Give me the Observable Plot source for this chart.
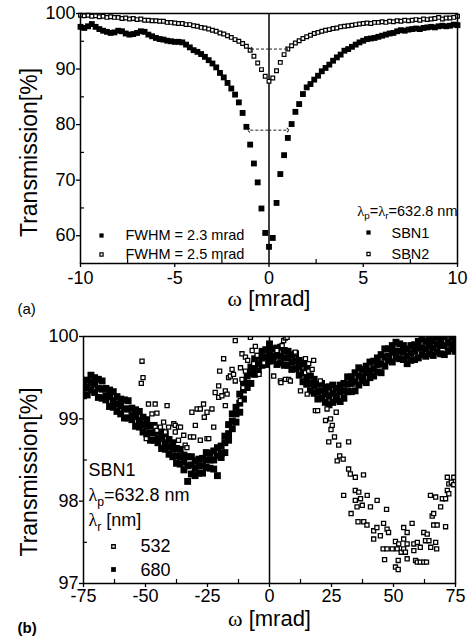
<!DOCTYPE html>
<html><head><meta charset="utf-8">
<script src="https://cdn.jsdelivr.net/npm/d3@7"></script>
<script src="https://cdn.jsdelivr.net/npm/@observablehq/plot@0.6"></script>
<style>
body{margin:0;background:#fff;}
#chart svg{display:block;}
#chart g[aria-label="x-axis tick"], #chart g[aria-label="y-axis tick"]{stroke-width:1.3px;}
</style></head><body><div id="chart"></div>
<script>
// ---------- panel (a) ----------
const omegaA = [-10,-9.8,-9.6,-9.4,-9.2,-9,-8.8,-8.6,-8.4,-8.2,
  -8,-7.8,-7.6,-7.4,-7.2,-7,-6.8,-6.6,-6.4,-6.2,
  -6,-5.8,-5.6,-5.4,-5.2,-5,-4.8,-4.6,-4.4,-4.2,
  -4,-3.8,-3.6,-3.4,-3.2,-3,-2.8,-2.6,-2.4,-2.2,
  -2,-1.8,-1.6,-1.4,-1.2,-1,-0.8,-0.6,-0.4,-0.2,
  0,0.2,0.4,0.6,0.8,1,1.2,1.4,1.6,1.8,
  2,2.2,2.4,2.6,2.8,3,3.2,3.4,3.6,3.8,
  4,4.2,4.4,4.6,4.8,5,5.2,5.4,5.6,5.8,
  6,6.2,6.4,6.6,6.8,7,7.2,7.4,7.6,7.8,
  8,8.2,8.4,8.6,8.8,9,9.2,9.4,9.6,9.8,
  10];
const sbn1T = [97.6,97.4,97.7,98.1,97.6,97.2,96.9,96.7,96.5,96.6,
  96.9,96.8,96.4,96.2,96.3,96.5,96.8,96.7,96.2,95.9,
  95.6,95.4,95.3,95.1,95.0,94.9,94.9,94.8,94.4,93.9,
  93.4,93.1,92.7,92.2,91.6,91.0,90.3,89.3,88.5,87.5,
  86.5,85.4,84.0,82.1,79.6,76.4,73.0,69.6,64.9,60.5,
  58.0,59.6,65.9,71.1,74.5,77.6,80.1,82.3,83.7,85.5,
  86.7,87.3,88.1,88.8,89.6,90.2,90.8,91.5,92.1,92.6,
  93.3,93.6,94.0,94.4,94.8,95.1,95.4,95.5,95.6,95.8,
  96.0,96.2,96.4,96.5,96.8,97.0,96.9,97.1,97.2,97.3,
  97.2,97.4,97.5,97.6,97.5,97.7,97.8,97.7,97.8,98.0,
  97.9];
const sbn2T = [99.7,99.6,99.7,99.5,99.6,99.4,99.5,99.3,99.4,99.3,
  99.3,99.1,99.2,99.0,99.1,98.9,99.0,98.8,98.8,98.7,
  98.7,98.6,98.6,98.4,98.4,98.3,98.2,98.2,98.0,98.0,
  97.8,97.7,97.5,97.4,97.2,97.0,96.8,96.5,96.3,96.0,
  95.7,95.3,95.0,94.6,94.1,93.4,92.3,91.1,89.9,88.7,
  87.8,88.4,89.7,91.2,92.6,93.6,94.2,94.7,95.1,95.5,
  95.8,96.1,96.4,96.6,96.8,97.0,97.1,97.3,97.4,97.6,
  97.7,97.8,97.9,98.0,98.1,98.2,98.3,98.2,98.4,98.4,
  98.5,98.4,98.6,98.5,98.7,98.6,98.8,98.7,98.8,98.9,
  98.8,99.0,98.9,99.0,99.1,99.3,99.0,99.2,99.2,99.3,
  99.5];
// FWHM arrows (dashed, double headed)
const fwhmLeft  = [-0.95, -1.08];
const fwhmRight = [0.95, 1.01];
const fwhmLevel = [93.6, 79.0];

const aXTicks = [-10,-5,0,5,10];
const aXMinor = [-7.5,-2.5,2.5,7.5];
const aYTicks = [60,70,80,90,100];
const aYMinor = [65,75,85,95];

// ---------- panel (b) ----------
const omegaB680 = [-75,-73.5,-72,-70.5,-69,-67.5,-66,-64.5,-63,-61.5,
  -60,-58.5,-57,-55.5,-54,-52.5,-51,-49.5,-48,-46.5,
  -45,-43.5,-42,-40.5,-39,-37.5,-36,-34.5,-33,-31.5,
  -30,-28.5,-27,-25.5,-24,-22.5,-21,-19.5,-18,-16.5,
  -15,-13.5,-12,-10.5,-9,-7.5,-6,-4.5,-3,-1.5,
  0,1.5,3,4.5,6,7.5,9,10.5,12,13.5,
  15,16.5,18,19.5,21,22.5,24,25.5,27,28.5,
  30,31.5,33,34.5,36,37.5,39,40.5,42,43.5,
  45,46.5,48,49.5,51,52.5,54,55.5,57,58.5,
  60,61.5,63,64.5,66,67.5,69,70.5,72,73.5,
  75];
const t680a = [99.45,99.47,99.53,99.50,99.48,99.46,99.37,99.35,99.33,99.27,
  99.24,99.23,99.22,99.13,99.11,99.09,99.02,98.99,98.92,98.92,
  98.85,98.84,98.82,98.75,98.71,98.64,98.63,98.56,98.54,98.54,
  98.49,98.51,98.52,98.59,98.58,98.61,98.65,98.67,98.79,98.93,
  99.06,99.14,99.30,99.45,99.52,99.63,99.73,99.76,99.82,99.84,
  99.91,99.85,99.86,99.87,99.83,99.82,99.78,99.79,99.71,99.67,
  99.61,99.52,99.48,99.42,99.43,99.38,99.39,99.41,99.37,99.41,
  99.43,99.51,99.51,99.56,99.62,99.60,99.64,99.69,99.70,99.74,
  99.78,99.85,99.85,99.89,99.93,99.91,99.89,99.85,99.89,99.90,
  99.94,99.97,99.94,99.96,99.95,99.99,99.97,100.00,100.03,99.99,
  100.01];
const t680b = [99.37,99.38,99.44,99.42,99.37,99.36,99.28,99.27,99.22,99.18,
  99.16,99.12,99.12,99.04,99.03,98.98,98.93,98.91,98.83,98.83,
  98.76,98.76,98.71,98.66,98.63,98.55,98.54,98.48,98.43,98.44,
  98.40,98.43,98.43,98.50,98.50,98.50,98.55,98.58,98.71,98.82,
  98.97,99.06,99.19,99.35,99.43,99.55,99.62,99.67,99.74,99.75,
  99.81,99.76,99.78,99.76,99.74,99.74,99.69,99.70,99.63,99.56,
  99.50,99.43,99.40,99.33,99.34,99.30,99.28,99.31,99.28,99.33,
  99.34,99.42,99.43,99.45,99.52,99.51,99.56,99.58,99.61,99.66,
  99.67,99.75,99.76,99.81,99.82,99.82,99.81,99.76,99.80,99.82,
  99.86,99.86,99.85,99.88,99.86,99.90,99.89,99.89,99.93,99.90,
  99.92];
const t680c = [99.28,99.29,99.35,99.32,99.26,99.25,99.23,99.15,99.14,99.09,
  99.06,99.01,99.01,98.99,98.91,98.90,98.84,98.82,98.74,98.74,
  98.71,98.64,98.63,98.57,98.54,98.46,98.45,98.38,98.24,98.33,
  98.31,98.34,98.34,98.41,98.40,98.39,98.31,98.53,98.59,98.74,
  98.88,98.96,99.08,99.24,99.38,99.43,99.54,99.58,99.65,99.66,
  99.70,99.71,99.66,99.68,99.65,99.65,99.60,99.61,99.53,99.45,
  99.42,99.34,99.31,99.24,99.25,99.20,99.17,99.20,99.23,99.21,
  99.25,99.33,99.33,99.34,99.41,99.46,99.44,99.50,99.52,99.57,
  99.56,99.64,99.71,99.69,99.74,99.73,99.72,99.67,99.71,99.72,
  99.74,99.78,99.76,99.79,99.77,99.81,99.79,99.78,99.82,99.85,
  99.82];
const omegaB532 = [-51.7,-51.4,-51.0,-49.7,-48.8,-47.4,-46.1,-46.1,-45.4,-45.4,
  -44.0,-42.7,-42.0,-41.3,-40.7,-38.6,-38.0,-38.0,-36.7,-36.7,
  -35.9,-34.6,-34.0,-33.3,-31.9,-31.3,-30.6,-29.9,-29.2,-27.9,
  -27.9,-26.6,-26.3,-25.2,-25.2,-24.5,-23.2,-22.5,-21.9,-20.5,
  -20.5,-20.1,-19.2,-18.5,-17.8,-17.8,-17.1,-16.5,-15.8,-15.1,
  -14.5,-13.8,-13.8,-11.8,-11.7,-11.1,-11.1,-10.7,-9.7,-9.7,
  -8.8,-7.7,-7.0,-6.4,-5.7,-5.0,-4.2,-2.3,1.7,3.0,
  4.4,4.6,5.1,5.7,6.4,6.4,7.1,7.7,8.4,10.4,
  12.5,14.5,14.5,15.2,15.8,15.8,17.2,17.8,18.5,19.4,
  20.5,22.6,23.2,23.9,24.6,24.8,25.3,26.2,26.9,27.3,
  27.9,28.3,29.7,29.9,31.9,31.9,32.6,32.9,34.6,34.6,
  34.6,35.3,35.7,36.0,36.7,37.4,37.9,38.0,39.3,39.4,
  40.7,42.0,42.0,43.3,43.4,44.7,45.8,46.0,46.4,47.2,
  47.4,47.4,48.0,49.5,50.8,50.8,51.5,51.9,51.9,52.1,
  53.1,54.1,54.1,54.1,54.8,55.5,55.5,55.5,57.5,58.2,
  58.2,58.9,59.6,59.6,60.8,60.8,62.2,62.2,62.9,63.3,
  63.6,64.3,64.9,65.0,65.6,66.2,66.2,67.0,67.0,67.4,
  67.6,69.0,69.7,71.0,71.0,71.7,71.7,72.3,72.3,73.3,
  74.3,74.3];
const t532 = [99.43,99.70,99.50,98.76,99.18,99.06,99.18,98.90,99.07,98.86,
  98.90,98.96,98.84,99.16,98.90,98.94,98.92,98.84,98.90,98.74,
  98.90,98.80,98.68,98.65,98.78,99.08,98.78,98.92,99.12,98.74,
  99.12,99.18,99.02,99.08,98.76,98.76,99.12,98.90,99.32,99.40,
  99.26,99.58,99.28,99.73,99.34,99.16,99.30,99.50,99.52,99.60,
  99.54,99.95,99.46,99.22,99.62,99.48,99.79,99.38,99.58,99.75,
  99.71,99.99,99.83,99.67,99.88,99.77,99.54,99.68,99.52,99.83,
  99.46,99.44,99.89,99.95,99.98,99.48,99.99,99.48,99.46,99.81,
  99.34,99.56,99.73,99.30,99.67,99.58,99.60,99.71,99.10,99.10,
  99.46,98.98,99.12,98.72,99.00,98.87,98.92,98.78,99.08,98.49,
  98.68,98.55,98.51,98.07,98.72,98.39,98.33,97.85,98.29,98.13,
  98.01,97.93,97.75,98.11,98.03,97.95,98.32,97.75,97.71,98.07,
  97.93,97.64,97.54,97.68,98.01,97.58,97.42,97.73,97.29,97.90,
  97.66,97.42,97.62,97.42,97.51,97.20,97.42,97.17,97.28,97.48,
  97.38,97.54,97.42,97.68,97.38,97.48,97.30,97.62,97.73,97.48,
  97.40,97.28,97.26,97.50,97.26,97.44,97.26,97.62,97.52,97.26,
  97.60,97.52,98.07,97.44,97.82,97.71,97.85,97.50,98.05,97.42,
  97.71,97.93,98.03,97.69,98.03,98.13,98.29,98.09,98.21,98.23,
  98.29,98.20];

const bXTicks = [-75,-50,-25,0,25,50,75];
const bXMinor = [-62.5,-37.5,-12.5,12.5,37.5,62.5];
const bYTicks = [97,98,99,100];
const bYMinor = [97.5,98.5,99.5];

// ---------- texts ----------
const yTitle = ["Transmission[%]"];
const xTitle = ["ω [mrad]"];
const aLegendLeft = ["FWHM = 2.3 mrad", "FWHM = 2.5 mrad"];
const aLegendRight = ["λ_p=λ_r=632.8 nm", "SBN1", "SBN2"];
const bLegend = ["SBN1", "λ_p=632.8 nm", "λ_r [nm]", "532", "680"];

const FONT = '"Liberation Sans", Arial, Helvetica, sans-serif';
const fmt = d => String(d);

const sbn1 = omegaA.map((x, i) => ({x, y: sbn1T[i]}));
const sbn2 = omegaA.map((x, i) => ({x, y: sbn2T[i]}));
const arrowsA = fwhmLevel.flatMap((y, i) => {
  const mid = (fwhmLeft[i] + fwhmRight[i]) / 2;
  return [{x1: mid, x2: fwhmLeft[i], y}, {x1: mid, x2: fwhmRight[i], y}];
});
const d680 = [t680a, t680b, t680c].flatMap(arr => omegaB680.map((x, i) => ({x, y: arr[i]})));
const d532 = omegaB532.map((x, i) => ({x, y: t532[i]}));

const sq = (extra) => Object.assign({symbol: "square"}, extra);
const lbl = (extra) => Object.assign({lineAnchor: "middle"}, extra);

const plotA = Plot.plot({
  width: 471, height: 320,
  marginLeft: 80, marginRight: 14, marginTop: 13, marginBottom: 57,
  style: {fontFamily: FONT, fontSize: "18px", color: "black", background: "white", overflow: "visible"},
  x: {domain: [-10, 10], ticks: aXTicks, tickSize: 4, tickPadding: 4, tickFormat: fmt, label: null},
  y: {domain: [55, 100], ticks: aYTicks, tickSize: 4, tickPadding: 1, tickFormat: fmt, label: null},
  marks: [
    Plot.ruleX([0], {strokeWidth: 1.5}),
    Plot.tickX(aXMinor, {insetTop: 246, strokeWidth: 1.2}),
    Plot.tickY(aYMinor, {insetRight: 373, strokeWidth: 1.2}),
    Plot.dot(sbn2, sq({x: "x", y: "y", r: 2.1, fill: "white", stroke: "black", strokeWidth: 1.2})),
    Plot.dot(sbn1, sq({x: "x", y: "y", r: 3.3, fill: "black", stroke: "none"})),
    Plot.link(arrowsA, {x1: "x1", x2: "x2", y1: "y", y2: "y", markerEnd: "arrow", stroke: "#222", strokeWidth: 1, strokeDasharray: "3,2"}),
    Plot.frame({strokeWidth: 1.5}),
    // legends
    Plot.dot([0], sq({frameAnchor: "bottom-left", dx: 21, dy: -28, r: 2.4, fill: "black", stroke: "none"})),
    Plot.dot([0], sq({frameAnchor: "bottom-left", dx: 21, dy: -9, r: 1.8, fill: "white", stroke: "black", strokeWidth: 1.2})),
    Plot.text([aLegendLeft[0]], lbl({frameAnchor: "bottom-left", dx: 45, dy: -28, textAnchor: "start", fontSize: 14.5})),
    Plot.text([aLegendLeft[1]], lbl({frameAnchor: "bottom-left", dx: 45, dy: -9, textAnchor: "start", fontSize: 14.5})),
    Plot.text([aLegendRight[0]], lbl({frameAnchor: "bottom-right", dx: 0, dy: -52.5, textAnchor: "end", fontSize: 14.5})),
    Plot.dot([0], sq({frameAnchor: "bottom-right", dx: -89, dy: -31, r: 2.4, fill: "black", stroke: "none"})),
    Plot.dot([0], sq({frameAnchor: "bottom-right", dx: -89, dy: -9.5, r: 1.8, fill: "white", stroke: "black", strokeWidth: 1.2})),
    Plot.text([aLegendRight[1]], lbl({frameAnchor: "bottom-right", dx: -66, dy: -30.5, textAnchor: "start", fontSize: 14.5})),
    Plot.text([aLegendRight[2]], lbl({frameAnchor: "bottom-right", dx: -66, dy: -9, textAnchor: "start", fontSize: 14.5})),
    // titles
    Plot.text(yTitle, lbl({frameAnchor: "left", dx: -51, dy: 14, rotate: -90, textAnchor: "middle", fontSize: 23})),
    Plot.text(xTitle, lbl({frameAnchor: "bottom", dx: 0, dy: 35.5, textAnchor: "middle", fontSize: 22})),
    Plot.text(["(a)"], lbl({frameAnchor: "bottom-left", dx: -63, dy: 45.5, textAnchor: "start", fontSize: 15}))
  ]
});

const plotB = Plot.plot({
  width: 471, height: 323,
  marginLeft: 83, marginRight: 16, marginTop: 16, marginBottom: 60,
  style: {fontFamily: FONT, fontSize: "18px", color: "black", background: "white", overflow: "visible"},
  x: {domain: [-75, 75], ticks: bXTicks, tickSize: 4, tickPadding: 2, tickFormat: fmt, label: null},
  y: {domain: [97, 100], ticks: bYTicks, tickSize: 4, tickPadding: 1, tickFormat: fmt, label: null},
  marks: [
    Plot.ruleX([0], {strokeWidth: 1.5}),
    Plot.tickX(bXMinor, {insetTop: 243, strokeWidth: 1.2}),
    Plot.tickY(bYMinor, {insetRight: 368, strokeWidth: 1.2}),
    Plot.dot(d680, sq({x: "x", y: "y", r: 3.9, fill: "black", stroke: "none", clip: true})),
    Plot.dot(d532, sq({x: "x", y: "y", r: 2.3, fill: "white", stroke: "black", strokeWidth: 1.3, clip: true})),
    Plot.frame({strokeWidth: 1.5}),
    // legend
    Plot.text([bLegend[0]], lbl({frameAnchor: "bottom-left", dx: 5, dy: -113, textAnchor: "start", fontSize: 18})),
    Plot.text([bLegend[1]], lbl({frameAnchor: "bottom-left", dx: 5, dy: -88, textAnchor: "start", fontSize: 18})),
    Plot.text([bLegend[2]], lbl({frameAnchor: "bottom-left", dx: 5, dy: -63, textAnchor: "start", fontSize: 18})),
    Plot.dot([0], sq({frameAnchor: "bottom-left", dx: 30, dy: -37, r: 2.0, fill: "white", stroke: "black", strokeWidth: 1.3})),
    Plot.text([bLegend[3]], lbl({frameAnchor: "bottom-left", dx: 57, dy: -37, textAnchor: "start", fontSize: 18})),
    Plot.dot([0], sq({frameAnchor: "bottom-left", dx: 30, dy: -14, r: 2.7, fill: "black", stroke: "none"})),
    Plot.text([bLegend[4]], lbl({frameAnchor: "bottom-left", dx: 57, dy: -13.5, textAnchor: "start", fontSize: 18})),
    // titles
    Plot.text(yTitle, lbl({frameAnchor: "left", dx: -54, dy: 12, rotate: -90, textAnchor: "middle", fontSize: 23})),
    Plot.text(xTitle, lbl({frameAnchor: "bottom", dx: 0, dy: 35, textAnchor: "middle", fontSize: 22})),
    Plot.text(["(b)"], lbl({frameAnchor: "bottom-left", dx: -66, dy: 45, textAnchor: "start", fontSize: 15, fontWeight: "bold"}))
  ]
});

const host = document.getElementById("chart");
host.appendChild(plotA);
host.appendChild(plotB);

// rich text: "_x" -> subscript x, Greek letters in a serif face
function richText(svg) {
  const NS = "http://www.w3.org/2000/svg";
  for (const t of svg.querySelectorAll("text")) {
    const s = t.textContent;
    if (!/[_ωλ]/.test(s) || t.querySelector("tspan")) continue;
    const size = parseFloat(getComputedStyle(t).fontSize) || 16;
    const tokens = s.match(/_.|[ωλ]|[^_ωλ]+/g);
    t.textContent = "";
    let shift = 0;
    for (const tok of tokens) {
      const ts = document.createElementNS(NS, "tspan");
      let want = 0;
      if (tok[0] === "_") {
        ts.textContent = tok[1];
        ts.setAttribute("font-size", (size * 0.68).toFixed(2));
        want = size * 0.26;
      } else {
        ts.textContent = tok;
        if (/[ωλ]/.test(tok)) ts.setAttribute("font-family", '"Liberation Serif", "DejaVu Serif", serif');
      }
      if (want !== shift) { ts.setAttribute("dy", (want - shift).toFixed(2)); shift = want; }
      t.appendChild(ts);
    }
  }
}
richText(plotA);
richText(plotB);
</script>
</body></html>
